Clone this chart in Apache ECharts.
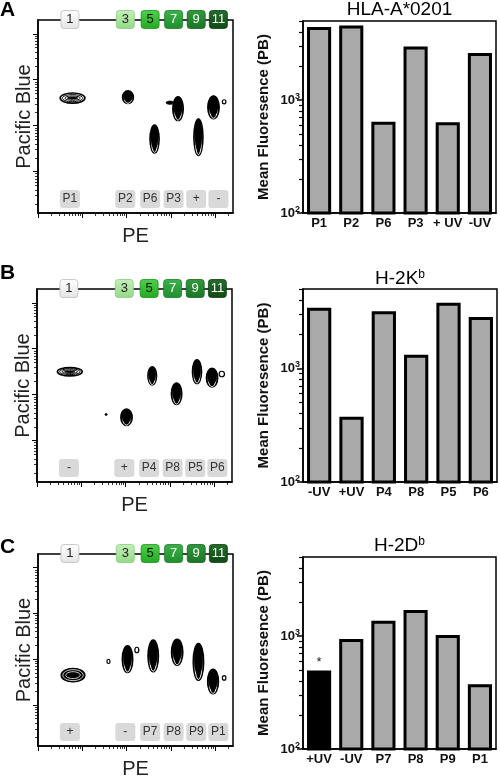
<!DOCTYPE html>
<html><head><meta charset="utf-8">
<script src="https://cdn.jsdelivr.net/npm/echarts@6/dist/echarts.min.js"></script>
<style>html,body{margin:0;padding:0;background:#fff}#c{width:500px;height:780px}</style>
</head><body><div id="c"></div>
<script>
// ================= DATA =================
const panelLetters = ['A', 'B', 'C'];
const columnNumbers = ['1', '3', '5', '7', '9', '11'];
const columnPE = [0.72, 1.97, 2.53, 3.06, 3.57, 4.07];   // PE position (log10) of each well column
const wellLabelsA = ['P1', 'P2', 'P6', 'P3', '+', '-'];
const wellLabelsB = ['-', '+', 'P4', 'P8', 'P5', 'P6'];
const wellLabelsC = ['+', '-', 'P7', 'P8', 'P9', 'P1'];

// contour populations: PE (log10), Pacific Blue (log10), spread in PE, spread in PB, contour kind
const popPE_A   = [0.78, 2.03, 2.63, 3.16, 2.98, 3.62, 3.96, 4.20];
const popPB_A   = [3.60, 3.62, 2.71, 3.37, 3.50, 2.75, 3.40, 3.52];
const popSdPE_A = [0.56, 0.25, 0.21, 0.24, 0.18, 0.21, 0.26, 0.08];
const popSdPB_A = [0.22, 0.28, 0.61, 0.52, 0.07, 0.80, 0.50, 0.09];
const popKind_A = ['ring', 'solid', 'solid', 'solid', 'spike', 'solid', 'solid', 'loop'];

const popPE_B   = [0.74, 1.56, 2.02, 2.60, 3.15, 3.61, 3.95, 4.17];
const popPB_B   = [3.50, 2.57, 2.51, 3.41, 3.02, 3.50, 3.37, 3.45];
const popSdPE_B = [0.56, 0.05, 0.26, 0.20, 0.24, 0.21, 0.26, 0.12];
const popSdPB_B = [0.18, 0.04, 0.36, 0.40, 0.47, 0.52, 0.41, 0.12];
const popKind_B = ['ring', 'dot', 'solid', 'solid', 'solid', 'solid', 'solid', 'loop'];

const popPE_C   = [0.79, 1.59, 2.02, 2.23, 2.60, 3.14, 3.62, 3.95, 4.20];
const popPB_C   = [2.65, 2.95, 3.00, 3.20, 3.07, 3.15, 2.94, 2.51, 2.59];
const popSdPE_C = [0.54, 0.07, 0.24, 0.09, 0.24, 0.26, 0.24, 0.25, 0.08];
const popSdPB_C = [0.30, 0.09, 0.59, 0.12, 0.70, 0.57, 0.81, 0.54, 0.10];
const popKind_C = ['dense', 'loop', 'solid', 'loop', 'solid', 'solid', 'solid', 'solid', 'loop'];

// bar charts: mean fluorescence (PB)
const barTitleA = 'HLA-A*0201';
const barTitleB = ['H-2K', 'b'];
const barTitleC = ['H-2D', 'b'];
const barCatsA = ['P1', 'P2', 'P6', 'P3', '+ UV', '-UV'];
const barValsA = [4420, 4560, 641, 2970, 634, 2600];
const barCatsB = ['-UV', '+UV', 'P4', 'P8', 'P5', 'P6'];
const barValsB = [3420, 376, 3190, 1320, 3790, 2830];
const barCatsC = ['+UV', '-UV', 'P7', 'P8', 'P9', 'P1'];
const barValsC = [494, 942, 1365, 1695, 1020, 375];
const barMarkedC = [true, false, false, false, false, false];

const barMin = 100, barMax = 5000;
const barMajorTicks = [100, 1000];
const barMinorTicks = [200, 300, 400, 500, 600, 700, 800, 900, 2000, 3000, 4000, 5000];

// ================= LAYOUT / STYLE =================
const FONT = '"Liberation Sans", Arial, Helvetica, sans-serif';
const PE_MIN = 0, PE_MAX = 4.4, PB_MIN = 1.1, PB_MAX = 5.3;
const leftGrids = [
  {left: 38, top: 20, width: 195, height: 193},
  {left: 37, top: 289, width: 195, height: 193},
  {left: 38, top: 554, width: 195, height: 194}
];
const barGrids = [
  {left: 303, top: 21, width: 193, height: 192},
  {left: 303, top: 289, width: 194, height: 193},
  {left: 303, top: 557, width: 193, height: 192}
];
const letterY = [10.5, 273.5, 548];
const titleY = [10, 279, 545.5];
const columnColors = [
  ['#ffffff', '#e4e4e4', '#222', '#bdbdbd'],
  ['#c4f0ba', '#93d986', '#222', '#8ac97e'],
  ['#4fd04a', '#22a922', '#111', '#1d931d'],
  ['#3cb14a', '#1f8f2c', '#fff', '#1b7d27'],
  ['#2f9a3c', '#1a7526', '#fff', '#156320'],
  ['#236e2a', '#0f4a15', '#fff', '#0c3d11']
];

function logTicks(lo, hi, majorOnly) {
  const out = [];
  for (let d = -1; d <= 6; d++) {
    if (majorOnly) { if (d >= lo && d <= hi) out.push(d); continue; }
    for (let k = 2; k <= 9; k++) {
      const v = d + Math.log10(k);
      if (v >= lo && v <= hi) out.push(+v.toFixed(4));
    }
  }
  return out;
}

function blobRenderer(kinds) {
  return function (params, api) {
    const c = api.coord([api.value(0), api.value(1)]);
    const s = api.size([api.value(2), api.value(3)]);
    const rx = Math.max(s[0] / 2, 1), ry = Math.max(s[1] / 2, 1);
    const kind = kinds[params.dataIndex];
    const E = (sx, sy, dy, style) => ({type: 'ellipse', shape: {cx: c[0], cy: c[1] + dy * ry, rx: rx * sx, ry: ry * sy}, style});
    const ch = [];
    if (kind === 'ring') {
      ch.push(E(1, 1, 0, {fill: '#fff', stroke: '#000', lineWidth: 1.6}));
      ch.push(E(0.82, 0.7, 0, {fill: 'none', stroke: '#000', lineWidth: 1}));
      ch.push(E(0.62, 0.42, 0, {fill: 'none', stroke: '#000', lineWidth: 1}));
      ch.push(E(0.42, 0.2, 0, {fill: '#000', stroke: '#000', lineWidth: 0.8}));
    } else if (kind === 'dense') {
      ch.push(E(1, 1, 0, {fill: '#000', stroke: '#000', lineWidth: 1.2}));
      ch.push(E(0.85, 0.8, 0, {fill: 'none', stroke: '#fff', lineWidth: 0.8}));
      ch.push(E(0.6, 0.5, 0, {fill: 'none', stroke: '#fff', lineWidth: 0.8}));
    } else if (kind === 'solid') {
      ch.push(E(1, 1, 0, {fill: '#000', stroke: '#000', lineWidth: 1.3}));
      ch.push(E(0.68, 0.9, 0.05, {fill: 'none', stroke: '#fff', lineWidth: 1}));
      ch.push(E(0.8, 0.82, -0.14, {fill: '#000', stroke: '#000', lineWidth: 0.5}));
    } else if (kind === 'loop') {
      ch.push(E(1, 1, 0, {fill: 'none', stroke: '#000', lineWidth: 1.2}));
    } else {
      ch.push(E(1, 1, 0, {fill: '#000', stroke: '#000', lineWidth: 0.8}));
    }
    return {type: 'group', children: ch};
  };
}

function columnRenderer(labels) {
  return function (params, api) {
    const i = params.dataIndex;
    const top = api.coord([api.value(0), PB_MAX]);
    const bot = api.coord([api.value(0), PB_MIN]);
    const col = columnColors[i];
    const ch = [];
    ch.push({type: 'rect', shape: {x: top[0] - 9, y: top[1] - 9.5, width: 18, height: 18, r: 3},
      style: {fill: {type: 'linear', x: 0, y: 0, x2: 0, y2: 1, colorStops: [{offset: 0, color: col[0]}, {offset: 1, color: col[1]}]},
        stroke: col[3], lineWidth: 0.8}});
    ch.push({type: 'text', style: {text: columnNumbers[i], x: top[0], y: top[1] - 0.5, align: 'center', verticalAlign: 'middle',
      textAlign: 'center', textVerticalAlign: 'middle', font: '13px ' + FONT, fill: col[2]}});
    ch.push({type: 'rect', shape: {x: bot[0] - 10, y: bot[1] - 23, width: 20, height: 18, r: 3},
      style: {fill: '#d9d9d9', stroke: 'none'}});
    ch.push({type: 'text', style: {text: labels[i], x: bot[0], y: bot[1] - 14, align: 'center', verticalAlign: 'middle',
      textAlign: 'center', textVerticalAlign: 'middle', font: '12px ' + FONT, fill: '#333'}});
    return {type: 'group', children: ch};
  };
}

const supRich = {
  b: {fontSize: 13, fontWeight: 'bold', fontFamily: FONT, color: '#111'},
  s: {fontSize: 9, fontWeight: 'bold', fontFamily: FONT, color: '#111', verticalAlign: 'top', padding: [0, 0, 7, 0]}
};

const grid = [], xAxis = [], yAxis = [], series = [], graphic = [];
const panels = [
  {labels: wellLabelsA, pe: popPE_A, pb: popPB_A, sdpe: popSdPE_A, sdpb: popSdPB_A, kind: popKind_A, cats: barCatsA, vals: barValsA, marked: null, title: barTitleA},
  {labels: wellLabelsB, pe: popPE_B, pb: popPB_B, sdpe: popSdPE_B, sdpb: popSdPB_B, kind: popKind_B, cats: barCatsB, vals: barValsB, marked: null, title: barTitleB},
  {labels: wellLabelsC, pe: popPE_C, pb: popPB_C, sdpe: popSdPE_C, sdpb: popSdPB_C, kind: popKind_C, cats: barCatsC, vals: barValsC, marked: barMarkedC, title: barTitleC}
];
const blk = {color: '#000', width: 1.5};

panels.forEach((p, k) => {
  const gL = grid.length;
  grid.push(Object.assign({show: true, borderColor: '#000', borderWidth: 1.5, backgroundColor: 'transparent'}, leftGrids[k]));
  const gB = grid.length;
  grid.push(Object.assign({show: true, borderColor: '#000', borderWidth: 1.5, backgroundColor: 'transparent'}, barGrids[k]));

  const xL = xAxis.length;
  xAxis.push({type: 'value', gridIndex: gL, min: PE_MIN, max: PE_MAX, position: 'bottom',
    name: 'PE', nameLocation: 'middle', nameGap: 13, nameTextStyle: {fontSize: 20, color: '#222', fontFamily: FONT},
    axisLine: {show: true, lineStyle: blk}, splitLine: {show: false}, axisLabel: {show: false},
    axisTick: {show: true, length: 5, customValues: logTicks(PE_MIN, PE_MAX, true), lineStyle: {color: '#000', width: 1}}});
  xAxis.push({type: 'value', gridIndex: gL, min: PE_MIN, max: PE_MAX, position: 'bottom', offset: 0,
    axisLine: {show: false}, splitLine: {show: false}, axisLabel: {show: false},
    axisTick: {show: true, length: 3, customValues: logTicks(PE_MIN, PE_MAX, false), lineStyle: {color: '#000', width: 0.8}}});
  const xB = xAxis.length;
  xAxis.push({type: 'category', gridIndex: gB, data: p.cats,
    axisLine: {show: true, lineStyle: blk}, axisTick: {show: false},
    axisLabel: {margin: 4, fontSize: 13, fontWeight: 'bold', color: '#111', fontFamily: FONT, interval: 0}});

  const yL = yAxis.length;
  yAxis.push({type: 'value', gridIndex: gL, min: PB_MIN, max: PB_MAX, position: 'left',
    name: 'Pacific Blue', nameLocation: 'middle', nameGap: 4, nameTextStyle: {fontSize: 20, color: '#222', fontFamily: FONT},
    axisLine: {show: true, lineStyle: blk}, splitLine: {show: false}, axisLabel: {show: false},
    axisTick: {show: true, length: 5, customValues: logTicks(PB_MIN, PB_MAX, true), lineStyle: {color: '#000', width: 1}}});
  yAxis.push({type: 'value', gridIndex: gL, min: PB_MIN, max: PB_MAX, position: 'left', offset: 0,
    axisLine: {show: false}, splitLine: {show: false}, axisLabel: {show: false},
    axisTick: {show: true, length: 3, customValues: logTicks(PB_MIN, PB_MAX, false), lineStyle: {color: '#000', width: 0.8}}});
  const yB = yAxis.length;
  yAxis.push({type: 'log', gridIndex: gB, min: barMin, max: barMax, logBase: 10, position: 'left',
    name: 'Mean Fluoresence (PB)', nameLocation: 'middle', nameGap: 32,
    nameTextStyle: {fontSize: 15, fontWeight: 'bold', color: '#111', fontFamily: FONT},
    axisLine: {show: true, lineStyle: blk}, splitLine: {show: false},
    axisTick: {show: true, length: 6, customValues: barMajorTicks, lineStyle: {color: '#000', width: 1.5}},
    axisLabel: {customValues: barMajorTicks, margin: 3, rich: supRich,
      formatter: v => '{b|10}{s|' + Math.round(Math.log10(v)) + '}'}});
  yAxis.push({type: 'log', gridIndex: gB, min: barMin, max: barMax, logBase: 10, position: 'left', offset: 0,
    axisLine: {show: false}, splitLine: {show: false}, axisLabel: {show: false},
    axisTick: {show: true, length: 4, customValues: barMinorTicks, lineStyle: {color: '#000', width: 1.2}}});

  series.push({type: 'custom', xAxisIndex: xL, yAxisIndex: yL, clip: false, silent: true,
    renderItem: blobRenderer(p.kind), z: 3,
    data: p.pe.map((v, i) => [v, p.pb[i], p.sdpe[i], p.sdpb[i]])});
  series.push({type: 'custom', xAxisIndex: xL, yAxisIndex: yL, clip: false, silent: true,
    renderItem: columnRenderer(p.labels), z: 5,
    data: columnPE.map(v => [v])});
  series.push({type: 'bar', xAxisIndex: xB, yAxisIndex: yB, barWidth: '75%', silent: true,
    itemStyle: {color: '#aaaaaa', borderColor: '#000', borderWidth: 3},
    data: p.vals.map((v, i) => (p.marked && p.marked[i]) ?
      {value: v, itemStyle: {color: '#000'}, label: {show: true, position: 'top', formatter: '*', fontSize: 13, color: '#222', distance: 2}} : v)});

  graphic.push({type: 'text', left: 0, top: letterY[k] - 11,
    style: {text: panelLetters[k], font: 'bold 21px ' + FONT, fill: '#000'}});
  const cx = barGrids[k].left + barGrids[k].width / 2;
  const titleText = Array.isArray(p.title) ? '{a|' + p.title[0] + '}{s|' + p.title[1] + '}' : '{a|' + p.title + '}';
  graphic.push({type: 'text', x: cx, y: titleY[k],
    style: {text: titleText, align: 'center', verticalAlign: 'middle', textAlign: 'center', textVerticalAlign: 'middle',
      rich: {a: {fontSize: 19, fontFamily: FONT, color: '#222'},
             s: {fontSize: 12, fontFamily: FONT, color: '#222', verticalAlign: 'top', padding: [0, 0, 8, 0]}}}});
});

const chart = echarts.init(document.getElementById('c'), null, {renderer: 'canvas'});
chart.setOption({animation: false, backgroundColor: '#fff', grid, xAxis, yAxis, series, graphic});
</script></body></html>
